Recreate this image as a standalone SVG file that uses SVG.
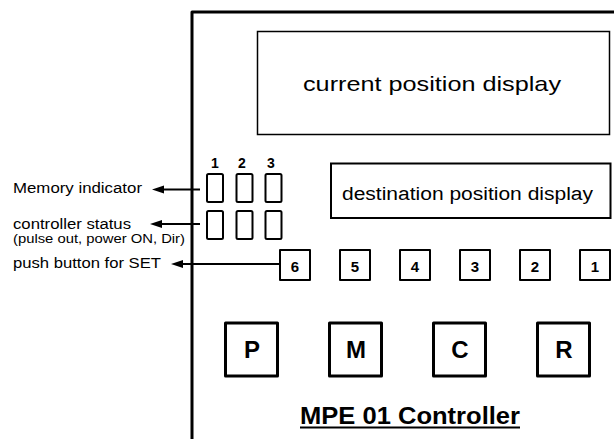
<svg xmlns="http://www.w3.org/2000/svg" width="614" height="439" viewBox="0 0 614 439">
<style>
text{font-family:"Liberation Sans",Arial,sans-serif;fill:#000}
.lbl{font-size:14px}
.b{font-weight:bold}
.disp{fill:none;stroke:#000}
.led{fill:none;stroke:#000;stroke-width:2;stroke-linejoin:round}
.btn{fill:none;stroke:#000;stroke-width:2;stroke-linejoin:round}
.key{fill:none;stroke:#000;stroke-width:3;stroke-linejoin:round}
.conn{stroke:#000;stroke-width:2.2;fill:none}
</style>
<defs>
<marker id="ah" markerUnits="userSpaceOnUse" markerWidth="12" markerHeight="9" refX="2" refY="4.5" orient="auto">
<path d="M0,0.5 L12,4.5 L0,8.5 z" fill="#000"/>
</marker>
</defs>
<rect width="614" height="439" fill="#fff"/>
<g id="frame">
<path d="M192,440 V12 H620" fill="none" stroke="#000" stroke-width="3" stroke-linejoin="round"/>
</g>
<g id="current-display">
<rect class="disp" x="257.5" y="31.5" width="352" height="103" stroke-width="1.5"/>
<text x="303" y="91" font-size="21" textLength="258" lengthAdjust="spacingAndGlyphs">current position display</text>
</g>
<g id="destination-display">
<rect class="disp" x="331" y="163.5" width="279.5" height="54.5" stroke-width="2"/>
<text x="342" y="200" font-size="18" textLength="251" lengthAdjust="spacingAndGlyphs">destination position display</text>
</g>
<g id="memory-indicator">
<text class="b" x="215" y="167.5" font-size="14" text-anchor="middle">1</text>
<text class="b" x="242" y="167.5" font-size="14" text-anchor="middle">2</text>
<text class="b" x="271" y="167.5" font-size="14" text-anchor="middle">3</text>
<rect class="led" x="207" y="174" width="16" height="28" rx="1.5"/>
<rect class="led" x="236.5" y="174" width="16" height="28" rx="1.5"/>
<rect class="led" x="265.5" y="174" width="16" height="28" rx="1.5"/>
</g>
<g id="controller-status">
<rect class="led" x="207" y="211" width="16" height="28" rx="1.5"/>
<rect class="led" x="236.5" y="211" width="16" height="28" rx="1.5"/>
<rect class="led" x="265.5" y="211" width="16" height="28" rx="1.5"/>
</g>
<g id="set-buttons">
<rect class="btn" x="280" y="250" width="30" height="30"/>
<rect class="btn" x="340" y="250" width="30" height="30"/>
<rect class="btn" x="400" y="250" width="30" height="30"/>
<rect class="btn" x="460" y="250" width="30" height="30"/>
<rect class="btn" x="520" y="250" width="30" height="30"/>
<rect class="btn" x="580" y="250" width="30" height="30"/>
<text class="b" x="295" y="271.5" font-size="15" text-anchor="middle">6</text>
<text class="b" x="355" y="271.5" font-size="15" text-anchor="middle">5</text>
<text class="b" x="415" y="271.5" font-size="15" text-anchor="middle">4</text>
<text class="b" x="475" y="271.5" font-size="15" text-anchor="middle">3</text>
<text class="b" x="535" y="271.5" font-size="15" text-anchor="middle">2</text>
<text class="b" x="595" y="271.5" font-size="15" text-anchor="middle">1</text>
</g>
<g id="key-P">
<rect class="key" x="225.5" y="323" width="52" height="53"/>
<text class="b" x="252" y="358" font-size="24" text-anchor="middle">P</text>
</g>
<g id="key-M">
<rect class="key" x="329.5" y="323" width="52" height="53"/>
<text class="b" x="356" y="358" font-size="24" text-anchor="middle">M</text>
</g>
<g id="key-C">
<rect class="key" x="433.5" y="323" width="52" height="53"/>
<text class="b" x="460" y="358" font-size="24" text-anchor="middle">C</text>
</g>
<g id="key-R">
<rect class="key" x="537.5" y="323" width="52" height="53"/>
<text class="b" x="564" y="358" font-size="24" text-anchor="middle">R</text>
</g>
<g id="title">
<text class="b" x="300" y="424" font-size="23" textLength="220" lengthAdjust="spacingAndGlyphs">MPE 01 Controller</text>
<line x1="300" y1="427.5" x2="520" y2="427.5" stroke="#000" stroke-width="2"/>
</g>
<g id="labels">
<text class="lbl" x="13" y="193" textLength="129" lengthAdjust="spacingAndGlyphs">Memory indicator</text>
<text class="lbl" x="13" y="229" textLength="118" lengthAdjust="spacingAndGlyphs">controller status</text>
<text x="13" y="243" font-size="12" textLength="172" lengthAdjust="spacingAndGlyphs">(pulse out, power ON, Dir)</text>
<text class="lbl" x="13" y="267.5" textLength="148" lengthAdjust="spacingAndGlyphs">push button for SET</text>
</g>
<g id="connectors">
<line class="conn" x1="200" y1="189.5" x2="162" y2="189.5" marker-end="url(#ah)"/>
<line class="conn" x1="200" y1="224" x2="160" y2="224" marker-end="url(#ah)"/>
<line class="conn" x1="279" y1="264" x2="181" y2="264" marker-end="url(#ah)"/>
</g>
</svg>
